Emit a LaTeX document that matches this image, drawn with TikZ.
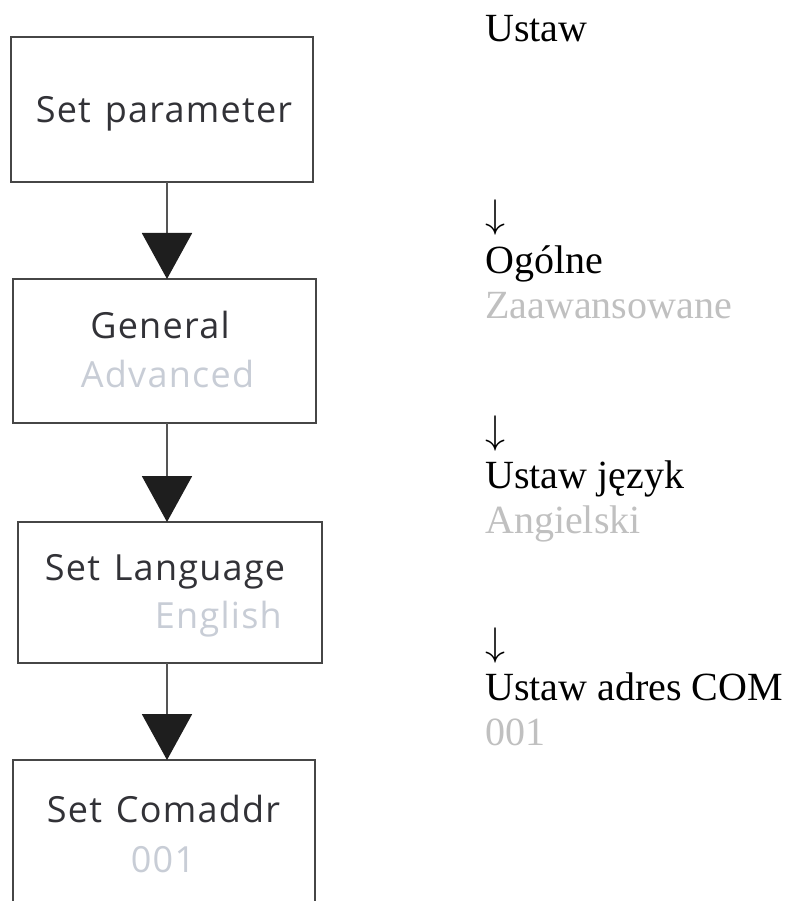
\RequirePackage{fix-cm}
\documentclass[tikz,border=0pt]{standalone}
\usepackage{fontspec}
\setmainfont{Liberation Serif}
\newfontfamily\boxfont[LetterSpace=3.5,WordSpace=1.3]{Open Sans}
\usetikzlibrary{arrows.meta}
\definecolor{boxline}{RGB}{70,70,70}
\definecolor{linegray}{RGB}{85,85,85}
\definecolor{headblack}{RGB}{30,30,30}
\definecolor{boxtext}{RGB}{50,50,55}
\definecolor{boxlight}{RGB}{200,205,214}
\definecolor{pltgray}{RGB}{192,192,192}
\begin{document}
\begin{tikzpicture}[x=1pt,y=-1pt,
  menubox/.style={draw=boxline, line width=2.5pt, fill=none, inner sep=0pt, outer sep=0pt},
  flowline/.style={draw=linegray, line width=2pt, -{Triangle[width=50pt,length=46pt,color=headblack]}},
  boxmain/.style={anchor=base, inner sep=0pt, text=boxtext, font=\boxfont\fontsize{36}{40}\selectfont},
  boxsub/.style={anchor=base, inner sep=0pt, text=boxlight, font=\boxfont\fontsize{36}{40}\selectfont},
  pltext/.style={anchor=base west, inner sep=0pt, text=black, font=\fontsize{40}{45}\selectfont},
  plsub/.style={anchor=base west, inner sep=0pt, text=pltgray, font=\fontsize{40}{45}\selectfont}
]
\useasboundingbox (0,0) rectangle (786,901);
\clip (0,0) rectangle (786,901);
\fill[white] (0,0) rectangle (786,901);

% boxes
\node[menubox, minimum width=302pt, minimum height=145pt] (b1) at (162,109.5) {};
\node[menubox, minimum width=303pt, minimum height=144pt] (b2) at (164.5,351) {};
\node[menubox, minimum width=304pt, minimum height=141pt] (b3) at (170,592.5) {};
\node[menubox, minimum width=302pt, minimum height=160pt] (b4) at (164,840) {};

% box texts
\node[boxmain] (t1) at (164,123) {Set parameter};
\node[boxmain] (t2) at (160,338) {General};
\node[boxsub] (s2) at (167.5,387) {Advanced};
\node[boxmain] (t3) at (165,580) {Set Language};
\node[boxsub, anchor=base east] (s3) at (282,628) {English};
\node[boxmain] (t4) at (163.5,822) {Set Comaddr};
\node[boxsub] (s4) at (163,872) {001};

% connectors
\coordinate (ax) at (167,0);
\draw[flowline] (b1.south -| ax) -- (b2.north -| ax);
\draw[flowline] (b2.south -| ax) -- (b3.north -| ax);
\draw[flowline] (b3.south -| ax) -- (b4.north -| ax);

% Polish text
\node[pltext] (p1) at (485,42) {Ustaw};
\node[pltext] (a1) at (485,228) {$\downarrow$};
\node[pltext] (p2) at (485,273) {Ogólne};
\node[plsub] (q2) at (485,318) {Zaawansowane};
\node[pltext] (a2) at (485,443) {$\downarrow$};
\node[pltext] (p3) at (485,488) {Ustaw język};
\node[plsub] (q3) at (485,533) {Angielski};
\node[pltext] (a3) at (485,655) {$\downarrow$};
\node[pltext] (p4) at (485,700) {Ustaw adres COM};
\node[plsub] (q4) at (485,745) {001};
\end{tikzpicture}
\end{document}
